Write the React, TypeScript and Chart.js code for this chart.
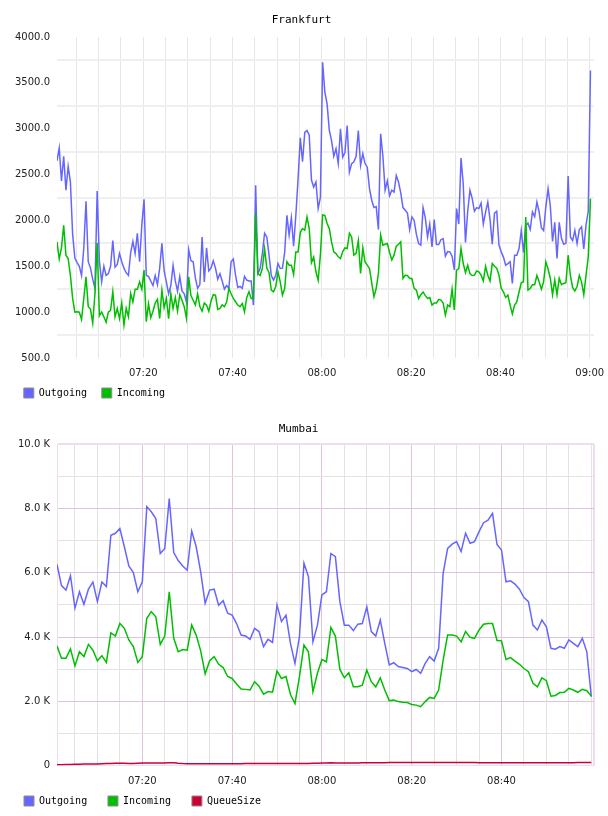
import React, { useEffect, useRef } from 'react';
import { Chart, registerables } from 'chart.js';

Chart.register(...registerables);

// Frankfurt: one sample every 30 s, first sample at 07:00:40 (minutes after 07:00)
const frankfurtStartMin = 0.67;
const frankfurtStepMin = 0.5;

const frankfurtOutgoing = [
  2650, 2790, 2430, 2700, 2330, 2590, 2420, 1850, 1590, 1540,
  1500, 1400, 1700, 2210, 1550, 1480, 1360, 1260, 2320, 1550,
  1330, 1500, 1400, 1420, 1500, 1780, 1490, 1520, 1640, 1550,
  1480, 1430, 1400, 1650, 1770, 1640, 1860, 1550, 1950, 2230,
  1400, 1390, 1340, 1290, 1400, 1300, 1480, 1750, 1450, 1330,
  1200, 1290, 1510, 1340, 1230, 1390, 1230, 1200, 1110, 1680,
  1560, 1550, 1370, 1260, 1300, 1820, 1330, 1700, 1450, 1480,
  1560, 1480, 1360, 1420, 1340, 1250, 1290, 1260, 1550, 1580,
  1400, 1270, 1280, 1260, 1390, 1350, 1340, 1340, 1077, 2383,
  1420, 1476, 1640, 1860, 1820, 1620, 1400, 1350, 1400, 1530,
  1476, 1480, 1650, 2056, 1840, 2030, 1720, 2056, 2450, 2900,
  2640, 2960, 2980, 2930, 2440, 2364, 2420, 2130, 2250, 3725,
  3400, 3270, 2981, 2870, 2700, 2782, 2620, 2999, 2690, 2740,
  3035, 2528, 2620, 2640, 2700, 2981, 2600, 2727, 2620, 2580,
  2346, 2220, 2140, 2150, 1900, 2945, 2700, 2330, 2430, 2270,
  2330, 2310, 2491, 2420, 2300, 2140, 2110, 2080, 1900,
  2038, 2000, 1850, 1748, 1730, 2140, 2030, 1820, 1960, 1712,
  2010, 1737, 1737, 1790, 1802, 1610, 1660, 1657, 1610, 1460,
  2129, 1960, 2680, 2400, 1760, 2100, 2328, 2240, 2100, 2140,
  2129, 2190, 1960, 2090, 2200, 2010, 1740, 2080, 2100, 1730,
  1660, 1600, 1512, 1530, 1550, 1313, 1620, 1620, 1693, 1890,
  1650, 1947, 1970, 1900, 2092, 2040, 2200, 2092, 1920, 1890,
  2147, 2346, 2160, 1770, 1980, 1585, 1980, 1805, 1740, 1750,
  2484, 1820, 1780, 1890, 1748, 1900, 1929, 1690, 1950, 2100, 3634,
];

const frankfurtIncoming = [
  1766, 1580, 1700, 1947, 1620, 1585, 1400, 1150, 1000, 1004,
  1000, 920, 1150, 1385, 1060, 1033, 880, 1200, 1755, 960,
  1000, 950, 890, 1000, 1020, 1222, 950, 1040, 930, 1100,
  859, 1041, 950, 1204, 1110, 1250, 1250, 1331, 1250, 1458,
  896, 1090, 940, 1010, 1100, 1140, 930, 1240, 1050, 1150,
  930, 1200, 1040, 1160, 1010, 1190, 1130, 1060, 932, 1385,
  1180, 1130, 1080, 1200, 1060, 1010, 1100, 1077, 1010, 1120,
  1190, 1186, 1030, 1040, 1080, 1060, 1110, 1258, 1200, 1149,
  1113, 1077, 1060, 1095, 1004, 1160, 1222, 1149, 1149, 2074,
  1420, 1400, 1476, 1693, 1480, 1430, 1240, 1222, 1280, 1440,
  1331, 1186, 1258, 1550, 1512, 1512, 1410, 1657, 1657, 1870,
  1911, 1893, 2038, 1911, 1540, 1600, 1440, 1349, 1621, 2060,
  2056, 1966, 1911, 1766, 1657, 1639, 1603, 1585, 1660, 1700,
  1693, 1860, 1820, 1621, 1640, 1780, 1421, 1700, 1548, 1512,
  1476, 1320, 1168, 1258, 1421, 1839, 1730, 1740, 1748, 1650,
  1570, 1621, 1720, 1740, 1766, 1367, 1403, 1400, 1367,
  1367, 1260, 1240, 1149, 1190, 1220, 1180, 1150, 1160, 1077,
  1100, 1100, 1140, 1131, 1100, 968, 1077, 1060, 1250, 1023,
  1458, 1476, 1693, 1530, 1430, 1512, 1420, 1400, 1403, 1450,
  1440, 1403, 1340, 1500, 1403, 1340, 1530, 1500, 1480, 1403,
  1260, 1222, 1160, 1186, 1077, 980, 1077, 1113, 1220, 1320,
  1331, 2038, 1240, 1258, 1300, 1300, 1400, 1331, 1250, 1331,
  1548, 1470, 1370, 1190, 1350, 1190, 1370, 1300, 1313, 1320,
  1621, 1400, 1270, 1230, 1280, 1400, 1330, 1190, 1400, 1600, 2238,
];

// Mumbai: one sample per minute from 07:01
const mumbaiStartMin = 1;
const mumbaiStepMin = 1;

const mumbaiOutgoing = [
  6260, 5600, 5460, 5910, 4900, 5410, 5020, 5490, 5710, 5100,
  5710, 5570, 7170, 7230, 7380, 6810, 6210, 6010, 5410, 5720,
  8060, 7900, 7690, 6600, 6760, 8310, 6630, 6380, 6210, 6080,
  7300, 6810, 6030, 5050, 5460, 5490, 4990, 5130, 4740, 4680,
  4420, 4060, 4030, 3930, 4270, 4170, 3700, 3930, 3830, 5000,
  4480, 4680, 3800, 3180, 4010, 6300, 5880, 3850, 4370, 5310,
  5410, 6600, 6500, 5100, 4370, 4370, 4200, 4400, 4420, 4940,
  4170, 4030, 4530, 3800, 3130, 3200, 3080, 3050, 3020, 2920,
  2990, 2870, 3180, 3390, 3250, 3650, 5980, 6760, 6890, 6970,
  6660, 7230, 6920, 6970, 7280, 7560, 7640, 7850, 6880, 6710,
  5720, 5750, 5650, 5490, 5230, 5100, 4370, 4220, 4530, 4320,
  3650, 3620, 3700, 3650, 3910, 3800, 3700, 3960, 3540, 2140,
];

const mumbaiIncoming = [
  3720, 3340, 3340, 3630, 3100, 3540, 3390, 3770, 3590, 3260,
  3420, 3210, 4130, 4030, 4420, 4270, 3910, 3700, 3210, 3390,
  4580, 4790, 4630, 3770, 4030, 5410, 3960, 3540, 3610, 3590,
  4370, 4060, 3570, 2850, 3260, 3390, 3150, 3050, 2770, 2710,
  2540, 2380, 2370, 2350, 2610, 2470, 2220, 2300, 2280, 2940,
  2710, 2770, 2210, 1930, 2770, 3750, 3540, 2300, 2870, 3300,
  3230, 4300, 4030, 2990, 2730, 2890, 2450, 2450, 2500, 2970,
  2610, 2450, 2730, 2350, 2020, 2040, 1990, 1970, 1960, 1900,
  1880, 1830, 1990, 2120, 2090, 2350, 3280, 4060, 4060, 4030,
  3850, 4170, 3990, 3960, 4220, 4400, 4420, 4420, 3890, 3880,
  3300, 3360, 3250, 3150, 3020, 2920, 2560, 2450, 2730, 2640,
  2160, 2180, 2270, 2280, 2400, 2350, 2280, 2370, 2330, 2160,
];

const mumbaiQueueSize = [
  20, 25, 30, 35, 40, 40, 45, 45, 45, 50,
  55, 60, 65, 70, 70, 70, 65, 65, 70, 75,
  75, 80, 75, 75, 80, 85, 85, 70, 60, 55,
  55, 55, 55, 55, 55, 55, 55, 55, 55, 55,
  55, 55, 60, 60, 60, 60, 60, 60, 60, 60,
  60, 60, 60, 60, 60, 65, 65, 70, 70, 80,
  80, 85, 80, 75, 75, 80, 80, 80, 85, 85,
  85, 85, 85, 85, 90, 90, 90, 90, 90, 90,
  90, 90, 90, 90, 90, 90, 90, 90, 90, 90,
  90, 90, 90, 90, 85, 85, 85, 85, 85, 85,
  85, 85, 85, 85, 85, 85, 85, 85, 85, 85,
  85, 85, 85, 85, 85, 85, 90, 90, 90, 90,
];

// Time axis: labelled every 20 minutes, gridded every 5 minutes
const frankfurtTimeLabelMinutes = [20, 40, 60, 80, 100, 120];
const frankfurtTimeLabels = ['07:20', '07:40', '08:00', '08:20', '08:40', '09:00'];
const mumbaiTimeLabelMinutes = [20, 40, 60, 80, 100];
const mumbaiTimeLabels = ['07:20', '07:40', '08:00', '08:20', '08:40'];
const timeGridStepMin = 5;

const frankfurtYLabels = [500, 1000, 1500, 2000, 2500, 3000, 3500, 4000];
const mumbaiYLabels = [0, 2000, 4000, 6000, 8000, 10000];

const BLUE = '#6666ff';
const GREEN = '#00bf00';
const RED = '#cc0033';
const MONO = '"DejaVu Sans Mono", monospace';
const SANS = '"DejaVu Sans", sans-serif';
const TICK_COLOR = '#222';
const CLEAR = 'rgba(0,0,0,0)';

const toPoints = (values: number[], start: number, step: number) =>
  values.map((y, i) => ({ x: start + i * step, y }));

const timeLabeller = (minutes: number[], labels: string[]) => (v: number) => {
  const i = minutes.indexOf(Math.round(v * 100) / 100);
  return i >= 0 ? labels[i] : '';
};

const timeGrid = (max: number) => {
  const out: { value: number }[] = [];
  for (let m = timeGridStepMin; m <= 120; m += timeGridStepMin) out.push({ value: m });
  out.push({ value: max });
  return out;
};

// The x axis is kept short so the legend sits close under it; its labels
// are allowed to draw past the axis box.
const shortXAxis = (height: number) => (s: any) => {
  s.height = height;
  s._computeLabelArea = () => undefined;
};

const legendLabels = (padding: number) => ({
  boxWidth: 10,
  boxHeight: 10,
  padding,
  font: { family: MONO, size: 10 },
  color: '#000',
  generateLabels: (chart: any) =>
    chart.data.datasets.map((ds: any, i: number) => ({
      text: ds.label,
      fillStyle: ds.borderColor,
      strokeStyle: '#8c8c8c',
      lineWidth: 1,
      hidden: false,
      datasetIndex: i,
      fontColor: '#000',
    })),
});

const line = (label: string, data: any[], color: string, order: number) => ({
  label,
  data,
  borderColor: color,
  backgroundColor: color,
  borderWidth: 1.5,
  pointRadius: 0,
  pointHoverRadius: 0,
  tension: 0,
  fill: false,
  order,
});

function frankfurtConfig(): any {
  const xMin = 0.67;
  const xMax = 120.96;
  return {
    type: 'line',
    data: {
      datasets: [
        line('Outgoing', toPoints(frankfurtOutgoing, frankfurtStartMin, frankfurtStepMin), BLUE, 2),
        line('Incoming', toPoints(frankfurtIncoming, frankfurtStartMin, frankfurtStepMin), GREEN, 1),
      ],
    },
    options: {
      responsive: false,
      animation: false,
      devicePixelRatio: 1,
      events: [],
      layout: { padding: { left: 9, right: 14, top: 0, bottom: 0 } },
      plugins: {
        title: {
          display: true,
          text: 'Frankfurt',
          color: '#000',
          font: { family: MONO, size: 11, weight: 'normal' },
          padding: { top: 13.4, bottom: 10.4 },
        },
        legend: { position: 'bottom', align: 'start', labels: legendLabels(14.8) },
        tooltip: { enabled: false },
      },
      scales: {
        x: {
          type: 'linear',
          min: xMin,
          max: xMax,
          afterBuildTicks: (s: any) => { s.ticks = timeGrid(xMax); },
          afterFit: shortXAxis(15.2),
          ticks: {
            autoSkip: false,
            maxRotation: 0,
            padding: 9,
            color: TICK_COLOR,
            font: { family: SANS, size: 10 },
            callback: timeLabeller(frankfurtTimeLabelMinutes, frankfurtTimeLabels),
          },
          grid: {
            color: (ctx: any) => (ctx.tick.value >= xMax ? CLEAR : '#e6e6e6'),
            lineWidth: 1,
            drawTicks: false,
          },
          border: { display: false },
        },
        y: {
          min: 500,
          max: 4000,
          afterBuildTicks: (s: any) => {
            const t: { value: number }[] = [];
            for (let v = 500; v <= 4000; v += 250) t.push({ value: v });
            s.ticks = t;
          },
          afterFit: (s: any) => { s.width = 48; },
          ticks: {
            autoSkip: false,
            padding: 7,
            color: TICK_COLOR,
            font: { family: SANS, size: 10 },
            callback: (v: number) => (frankfurtYLabels.includes(v) ? v.toFixed(1) : ''),
          },
          grid: {
            color: (ctx: any) => (frankfurtYLabels.includes(ctx.tick.value) ? CLEAR : '#efefef'),
            lineWidth: 2,
            drawTicks: false,
          },
          border: { display: false },
        },
      },
    },
  };
}

function mumbaiConfig(): any {
  const xMin = 1.0;
  const xMax = 120.6;
  const edge = '#efdcef';
  const major = '#dcc4dc';
  const minor = '#e3e3e3';
  return {
    type: 'line',
    data: {
      datasets: [
        line('Outgoing', toPoints(mumbaiOutgoing, mumbaiStartMin, mumbaiStepMin), BLUE, 2),
        line('Incoming', toPoints(mumbaiIncoming, mumbaiStartMin, mumbaiStepMin), GREEN, 1),
        line('QueueSize', toPoints(mumbaiQueueSize, mumbaiStartMin, mumbaiStepMin), RED, 0),
      ],
    },
    options: {
      responsive: false,
      animation: false,
      devicePixelRatio: 1,
      events: [],
      layout: { padding: { left: 3.2, right: 14, top: 0, bottom: 0 } },
      plugins: {
        title: {
          display: true,
          text: 'Mumbai',
          color: '#000',
          font: { family: MONO, size: 11, weight: 'normal' },
          padding: { top: 14.4, bottom: 8.7 },
        },
        legend: { position: 'bottom', align: 'start', labels: legendLabels(20.8) },
        tooltip: { enabled: false },
      },
      scales: {
        x: {
          type: 'linear',
          min: xMin,
          max: xMax,
          afterBuildTicks: (s: any) => { s.ticks = timeGrid(xMax); },
          afterFit: shortXAxis(9.7),
          ticks: {
            autoSkip: false,
            maxRotation: 0,
            padding: 10,
            color: TICK_COLOR,
            font: { family: SANS, size: 10 },
            callback: timeLabeller(mumbaiTimeLabelMinutes, mumbaiTimeLabels),
          },
          grid: {
            color: (ctx: any) => {
              const v = ctx.tick.value;
              if (v >= 120) return edge;
              return v % 20 === 0 ? major : minor;
            },
            lineWidth: (ctx: any) => (ctx.tick.value >= xMax ? 2 : 1),
            drawTicks: false,
          },
          border: { display: true, color: edge, width: 1 },
        },
        y: {
          min: 0,
          max: 10000,
          afterBuildTicks: (s: any) => {
            const t: { value: number }[] = [];
            for (let v = 0; v <= 10000; v += 1000) t.push({ value: v });
            s.ticks = t;
          },
          afterFit: (s: any) => { s.width = 53.8; },
          ticks: {
            autoSkip: false,
            padding: 7,
            color: TICK_COLOR,
            font: { family: SANS, size: 10 },
            callback: (v: number) => {
              if (!mumbaiYLabels.includes(v)) return '';
              return v === 0 ? '0' : `${(v / 1000).toFixed(1)} K`;
            },
          },
          grid: {
            color: (ctx: any) => {
              const v = ctx.tick.value;
              if (v === 10000 || v === 0) return edge;
              return v % 2000 === 0 ? major : minor;
            },
            lineWidth: (ctx: any) => (ctx.tick.value === 10000 ? 2 : 1),
            drawTicks: false,
          },
          border: { display: true, color: edge, width: 1 },
        },
      },
    },
  };
}

function ChartCanvas({ build, top }: { build: () => any; top: number }) {
  const ref = useRef<HTMLCanvasElement | null>(null);
  useEffect(() => {
    if (!ref.current) return;
    const chart = new Chart(ref.current, build());
    return () => chart.destroy();
  }, [build]);
  return (
    <canvas
      ref={ref}
      width={608}
      height={408}
      style={{ position: 'absolute', left: 0, top, width: 608, height: 408, display: 'block' }}
    />
  );
}

export default function App() {
  return (
    <div style={{ position: 'absolute', left: 0, top: 0, width: 608, height: 816, background: '#fff' }}>
      <ChartCanvas build={frankfurtConfig} top={0} />
      <ChartCanvas build={mumbaiConfig} top={408} />
    </div>
  );
}
